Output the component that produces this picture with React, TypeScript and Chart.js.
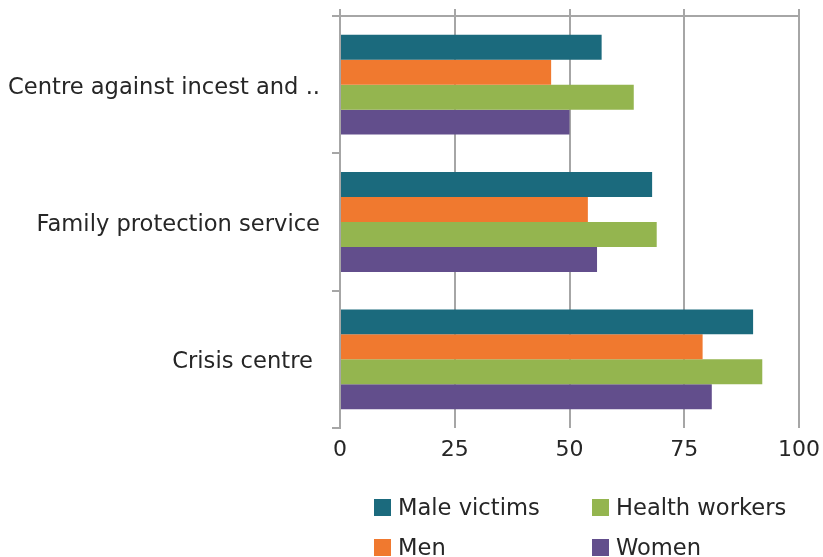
import React, { useEffect, useRef } from "react";
import { Chart, registerables } from "chart.js";

Chart.register(...registerables);

const categories = ["Centre against incest and ..", "Family protection service", "Crisis centre "];
const seriesNames = ["Male victims", "Men", "Health workers", "Women"];
const maleVictims = [57, 68, 90];
const men = [46, 54, 79];
const healthWorkers = [64, 69, 92];
const women = [50, 56, 81];
const xTicks = [0, 25, 50, 75, 100];

const colors = ["#1b6a7d", "#f0792f", "#94b54f", "#624e8c"];
const FONT = "'DejaVu Sans', Verdana, sans-serif";
const TEXT = "#262626";
const GRID = "#a6a6a6";

export default function App() {
  const ref = useRef<HTMLCanvasElement | null>(null);

  useEffect(() => {
    const values = [maleVictims, men, healthWorkers, women];
    const chart = new Chart(ref.current as HTMLCanvasElement, {
      type: "bar",
      data: {
        labels: categories,
        datasets: seriesNames.map((n, i) => ({
          label: n,
          data: values[i],
          backgroundColor: colors[i],
          borderWidth: 0,
          categoryPercentage: 0.727,
          barPercentage: 1,
        })),
      },
      options: {
        indexAxis: "y",
        animation: false,
        responsive: true,
        maintainAspectRatio: false,
        devicePixelRatio: 1,
        layout: { padding: { left: 0, right: 24, top: 0, bottom: 89 } },
        plugins: { legend: { display: false }, tooltip: { enabled: false } },
        scales: {
          x: {
            position: "bottom",
            min: 0,
            max: 100,
            afterBuildTicks: (s: any) => {
              s.ticks = xTicks.map((v) => ({ value: v }));
            },
            afterFit: (s: any) => {
              s.height = 40;
              s.paddingLeft = 0;
              s.paddingRight = 0;
            },
            grid: { color: GRID, lineWidth: 2, drawTicks: false },
            border: { display: false },
            ticks: { color: TEXT, font: { family: FONT, size: 22 }, padding: 9 },
          },
          x2: {
            position: "top",
            min: 0,
            max: 100,
            afterBuildTicks: (s: any) => {
              s.ticks = xTicks.map((v) => ({ value: v }));
            },
            afterFit: (s: any) => {
              s.height = 16;
              s.paddingLeft = 0;
              s.paddingRight = 0;
            },
            grid: { color: GRID, lineWidth: 2, drawOnChartArea: false, drawTicks: true, tickLength: 7 },
            border: { display: true, color: GRID, width: 2 },
            ticks: { display: false },
          },
          y: {
            afterFit: (s: any) => {
              s.width = 340;
              s.paddingTop = 0;
              s.paddingBottom = 0;
            },
            grid: { color: GRID, lineWidth: 2, drawOnChartArea: false, offset: true, tickLength: 8 },
            border: { display: true, color: GRID, width: 2 },
            ticks: { color: TEXT, font: { family: FONT, size: 22.6 }, padding: 12, labelOffset: 3 },
          },
        },
      },
    });
    return () => chart.destroy();
  }, []);

  const legendItems = [
    { name: seriesNames[0], color: colors[0], left: 374, top: 507 },
    { name: seriesNames[2], color: colors[2], left: 592, top: 507 },
    { name: seriesNames[1], color: colors[1], left: 374, top: 547 },
    { name: seriesNames[3], color: colors[3], left: 592, top: 547 },
  ];

  return (
    <div style={{ position: "absolute", left: 0, top: 0, width: 823, height: 557, background: "#fff", overflow: "hidden" }}>
      <div style={{ position: "absolute", left: 0, top: 0, width: 823, height: 557 }}>
        <canvas ref={ref} />
      </div>
      {legendItems.map((it) => (
        <div
          key={it.name}
          style={{
            position: "absolute",
            left: it.left,
            top: it.top - 15,
            height: 30,
            display: "flex",
            alignItems: "center",
            fontFamily: FONT,
            fontSize: 22.6,
            color: TEXT,
            whiteSpace: "nowrap",
          }}
        >
          <span style={{ display: "inline-block", width: 17, height: 17, background: it.color, marginRight: 7 }} />
          <span>{it.name}</span>
        </div>
      ))}
    </div>
  );
}
